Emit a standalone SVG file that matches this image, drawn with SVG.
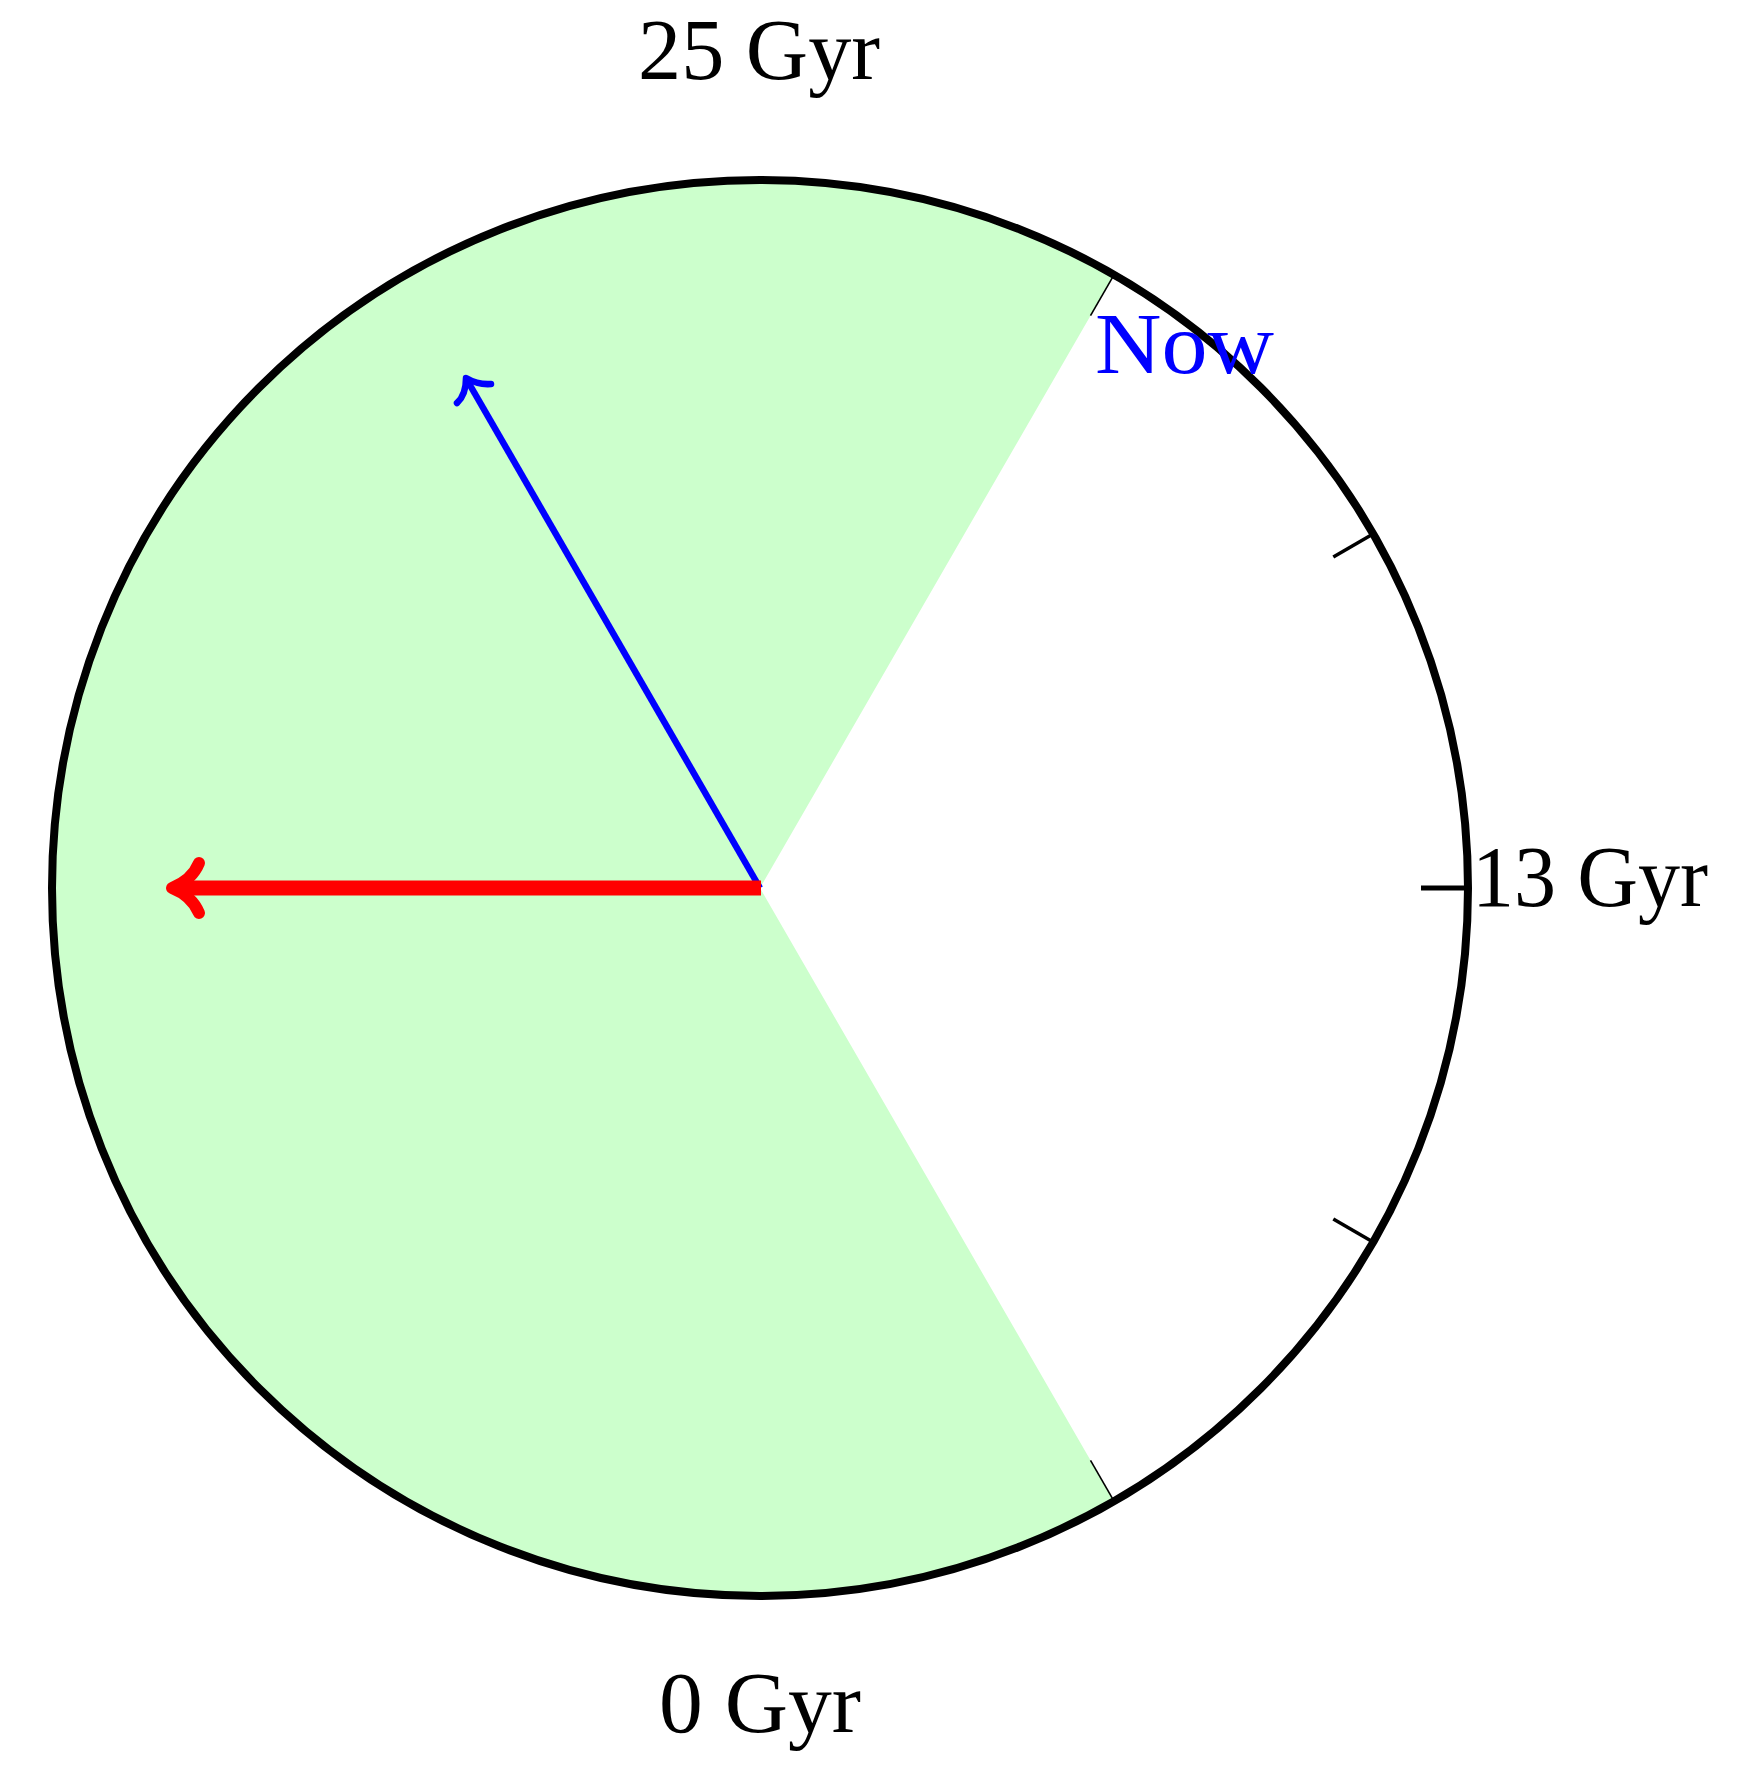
<svg xmlns="http://www.w3.org/2000/svg" width="1746" height="1785" viewBox="0 0 1746 1785">
<style>
.lbl{font-family:"Liberation Serif","Times New Roman",serif;font-size:86px;fill:#000}
.tick{stroke:#000;fill:none}
</style>
<rect width="1746" height="1785" fill="#fff"/>
<g id="sector">
<path d="M760,888 L1114,274.9 A708,708 0 1 0 1114,1501.1 Z" fill="#ccffcc"/>
</g>
<g id="dial">
<circle cx="760" cy="888" r="708" fill="none" stroke="#000" stroke-width="8"/>
</g>
<g id="ticks">
<line class="tick" x1="1114" y1="274.9" x2="1090.5" y2="315.6" stroke-width="1.6"/>
<line class="tick" x1="1114" y1="1501.1" x2="1090.5" y2="1460.4" stroke-width="1.6"/>
<line class="tick" x1="1373" y1="534" x2="1333.3" y2="557" stroke-width="3.5"/>
<line class="tick" x1="1373" y1="1242" x2="1333.3" y2="1219" stroke-width="3.5"/>
<line class="tick" x1="1421" y1="888" x2="1468" y2="888" stroke-width="5"/>
</g>
<g id="connectors">
<g id="blue-arrow" stroke="#0000ff" fill="none" stroke-linecap="round">
<line x1="760" y1="888" x2="467" y2="380" stroke-width="6.5" stroke-linecap="butt"/>
<path d="M457,403 Q466,395 466,378 Q478,385 491,384" stroke-width="6.5" stroke-linejoin="round"/>
</g>
<g id="red-arrow" stroke="#ff0000" fill="none">
<line x1="761" y1="888" x2="176" y2="888" stroke-width="15"/>
<path d="M199,863 Q192,880 172,888 Q192,896 199,913" stroke-width="12" stroke-linecap="round" stroke-linejoin="round"/>
</g>
</g>
<g id="labels">
<text id="label-25" class="lbl" x="759" y="79" text-anchor="middle" textLength="242" lengthAdjust="spacingAndGlyphs">25 Gyr</text>
<text id="label-0" class="lbl" x="760" y="1732" text-anchor="middle" textLength="202" lengthAdjust="spacingAndGlyphs">0 Gyr</text>
<text id="label-13" class="lbl" x="1472" y="906" textLength="236" lengthAdjust="spacingAndGlyphs">13 Gyr</text>
<text id="label-now" class="lbl" x="1095" y="373" textLength="179" lengthAdjust="spacingAndGlyphs" style="fill:#0000ff">Now</text>
</g>
</svg>
